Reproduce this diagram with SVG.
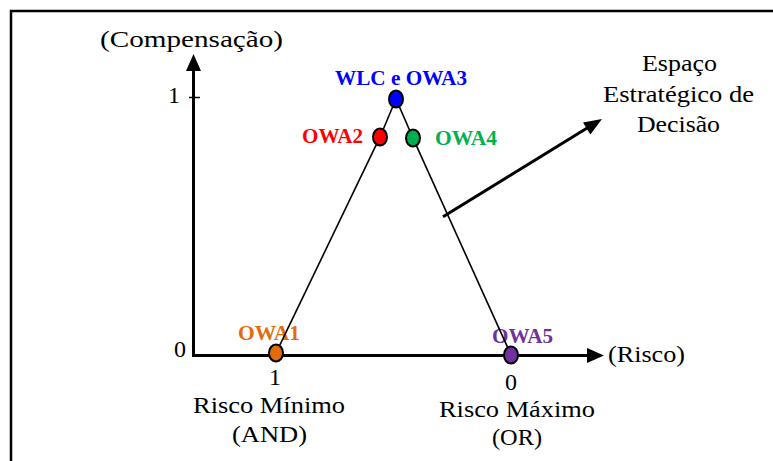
<svg xmlns="http://www.w3.org/2000/svg" width="773" height="461" viewBox="0 0 773 461">
<style>
.t{font-size:24px;fill:#000}
.b{font-size:20px;font-weight:bold}
.pt{stroke:#000;stroke-width:2}
.ln{stroke:#000;stroke-width:1.6;fill:none}
.ax{stroke:#000;stroke-width:3;fill:none}
</style>
<rect x="0" y="0" width="773" height="461" fill="#fff"/>
<rect x="11" y="11" width="820" height="520" fill="none" stroke="#000" stroke-width="2.5"/>
<g font-family="Liberation Serif">
<g id="axes">
<line class="ax" x1="193.5" y1="357" x2="193.5" y2="68"/>
<polygon points="193.5,54 186,71 201,71" fill="#000"/>
<line class="ax" x1="192" y1="355.5" x2="590" y2="355.5"/>
<polygon points="604,355.5 587,348 587,363" fill="#000"/>
<line x1="189" y1="97.5" x2="200" y2="97.5" stroke="#000" stroke-width="1.5"/>
<text class="t" x="100" y="47" textLength="183" lengthAdjust="spacingAndGlyphs">(Compensação)</text>
<text class="t" x="608" y="362" textLength="77" lengthAdjust="spacingAndGlyphs">(Risco)</text>
<text class="t" x="174" y="103" text-anchor="middle">1</text>
<text class="t" x="180" y="357" text-anchor="middle">0</text>
<text class="t" x="275" y="385" text-anchor="middle">1</text>
<text class="t" x="511" y="390" text-anchor="middle">0</text>
<text class="t" x="193" y="413" textLength="152" lengthAdjust="spacingAndGlyphs">Risco Mínimo</text>
<text class="t" x="232" y="442" textLength="75" lengthAdjust="spacingAndGlyphs">(AND)</text>
<text class="t" x="439" y="417" textLength="156" lengthAdjust="spacingAndGlyphs">Risco Máximo</text>
<text class="t" x="492" y="445" textLength="50" lengthAdjust="spacingAndGlyphs">(OR)</text>
</g>

<g id="espaco">
<text class="t" x="642" y="71" textLength="75" lengthAdjust="spacingAndGlyphs">Espaço</text>
<text class="t" x="603" y="102" textLength="151" lengthAdjust="spacingAndGlyphs">Estratégico de</text>
<text class="t" x="637" y="132" textLength="83" lengthAdjust="spacingAndGlyphs">Decisão</text>
</g>

<g id="owa1">
<text class="b" x="238" y="340" fill="#E36C0A" textLength="62" lengthAdjust="spacingAndGlyphs">OWA1</text>
<ellipse class="pt" cx="276" cy="353" rx="7" ry="8.5" fill="#E36C0A"/>
</g>
<g id="owa2">
<text class="b" x="302" y="143" fill="#FF0000" textLength="61" lengthAdjust="spacingAndGlyphs">OWA2</text>
<ellipse class="pt" cx="380" cy="137" rx="7" ry="8.5" fill="#FF0000"/>
</g>
<g id="owa3">
<text class="b" x="335" y="85" fill="#0000FF" textLength="132" lengthAdjust="spacingAndGlyphs">WLC e OWA3</text>
<ellipse class="pt" cx="396" cy="99" rx="7" ry="8.5" fill="#0000FF"/>
</g>
<g id="owa4">
<text class="b" x="435" y="145" fill="#00B050" textLength="62" lengthAdjust="spacingAndGlyphs">OWA4</text>
<ellipse class="pt" cx="413" cy="138" rx="7" ry="8.5" fill="#00B050"/>
</g>
<g id="owa5">
<text class="b" x="492" y="343" fill="#7030A0" textLength="61" lengthAdjust="spacingAndGlyphs">OWA5</text>
<ellipse class="pt" cx="511" cy="355" rx="7" ry="8.5" fill="#7030A0"/>
</g>

<g id="connectors">
<line class="ln" x1="279.7" y1="345.3" x2="376.3" y2="144.7"/>
<line class="ln" x1="383.3" y1="129.2" x2="392.7" y2="106.8"/>
<line class="ln" x1="399.4" y1="106.8" x2="409.6" y2="130.2"/>
<line class="ln" x1="416.5" y1="145.8" x2="507.5" y2="347.2"/>
<line x1="443" y1="216.7" x2="588" y2="127.5" stroke="#000" stroke-width="3"/>
<polygon points="602,119 590.4,134.4 583,122.4" fill="#000"/>
</g>
</g>
</svg>
